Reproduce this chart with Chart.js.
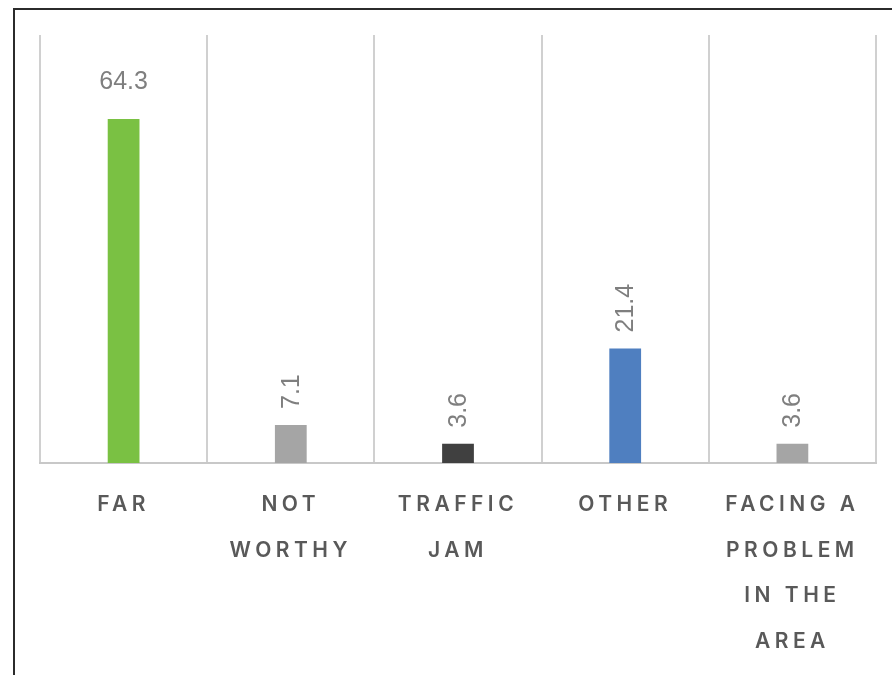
<!DOCTYPE html>
<html>
<head>
<meta charset="utf-8">
<style>
  html, body { margin: 0; padding: 0; background: #fff; overflow: hidden; }
  #wrap { position: relative; width: 892px; height: 675px; }
  #frame {
    position: absolute; left: 13px; top: 8px; width: 900px; height: 700px;
    border-left: 2px solid #2b2b2b; border-top: 2px solid #2b2b2b;
    pointer-events: none;
  }
  canvas { position: absolute; left: 0; top: 0; }
</style>
</head>
<body>
<div id="wrap">
  <canvas id="chart" width="892" height="675"></canvas>
  <div id="frame"></div>
</div>
<script src="https://cdn.jsdelivr.net/npm/chart.js@4/dist/chart.umd.min.js"></script>
<script>
const categories = ['FAR', ['NOT', 'WORTHY'], ['TRAFFIC', 'JAM'], 'OTHER', ['FACING A', 'PROBLEM', 'IN THE', 'AREA']];
const values = [64.3, 7.1, 3.6, 21.4, 3.6];
const barColors = ['#7ac143', '#a5a5a5', '#404040', '#4f7fc0', '#a5a5a5'];
const yMax = 80;

// valeurs au-dessus des barres ; la première est écrite à plat, les autres à la verticale
const valueLabels = {
  id: 'valueLabels',
  afterDatasetsDraw(chart, args, opts) {
    const ctx = chart.ctx;
    const meta = chart.getDatasetMeta(0);
    ctx.save();
    ctx.letterSpacing = '0px';
    ctx.font = opts.font;
    ctx.fillStyle = opts.color;
    meta.data.forEach((bar, i) => {
      const txt = String(values[i]);
      if (opts.flat.includes(i)) {
        ctx.textAlign = 'center';
        ctx.textBaseline = 'middle';
        ctx.fillText(txt, bar.x, bar.y - 37);
      } else {
        ctx.save();
        ctx.translate(bar.x, bar.y - 16);
        ctx.rotate(-Math.PI / 2);
        ctx.textAlign = 'left';
        ctx.textBaseline = 'middle';
        ctx.fillText(txt, 0, 1);
        ctx.restore();
      }
    });
    ctx.restore();
  }
};

// espacement des lettres pour les libellés de l'axe
const tickSpacing = {
  id: 'tickSpacing',
  beforeDraw(chart) { chart.ctx.letterSpacing = '4.5px'; },
  beforeDatasetsDraw(chart) { chart.ctx.letterSpacing = '0px'; }
};

const ctx = document.getElementById('chart').getContext('2d');
new Chart(ctx, {
  type: 'bar',
  data: {
    labels: categories,
    datasets: [{
      data: values,
      backgroundColor: barColors,
      barPercentage: 0.19,
      categoryPercentage: 1
    }]
  },
  options: {
    responsive: false,
    animation: false,
    layout: { padding: { left: 40, right: 16, top: 35, bottom: 0 } },
    scales: {
      x: {
        afterFit(scale) { scale.height = 212; },
        grid: { color: '#d0d0d0', lineWidth: 2, drawTicks: false, offset: true },
        border: { color: '#c8c8c8', width: 2 },
        ticks: {
          color: '#595959',
          padding: 19,
          maxRotation: 0,
          autoSkip: false,
          font: { family: 'Inter, "Open Sans", sans-serif', size: 21, weight: '600', lineHeight: 2.17 }
        }
      },
      y: { display: false, min: 0, max: yMax }
    },
    plugins: {
      legend: { display: false },
      tooltip: { enabled: false },
      valueLabels: { font: '25px "Liberation Sans", Arial, sans-serif', color: '#7f7f7f', flat: [0] }
    }
  },
  plugins: [valueLabels, tickSpacing]
});
</script>
</body>
</html>
